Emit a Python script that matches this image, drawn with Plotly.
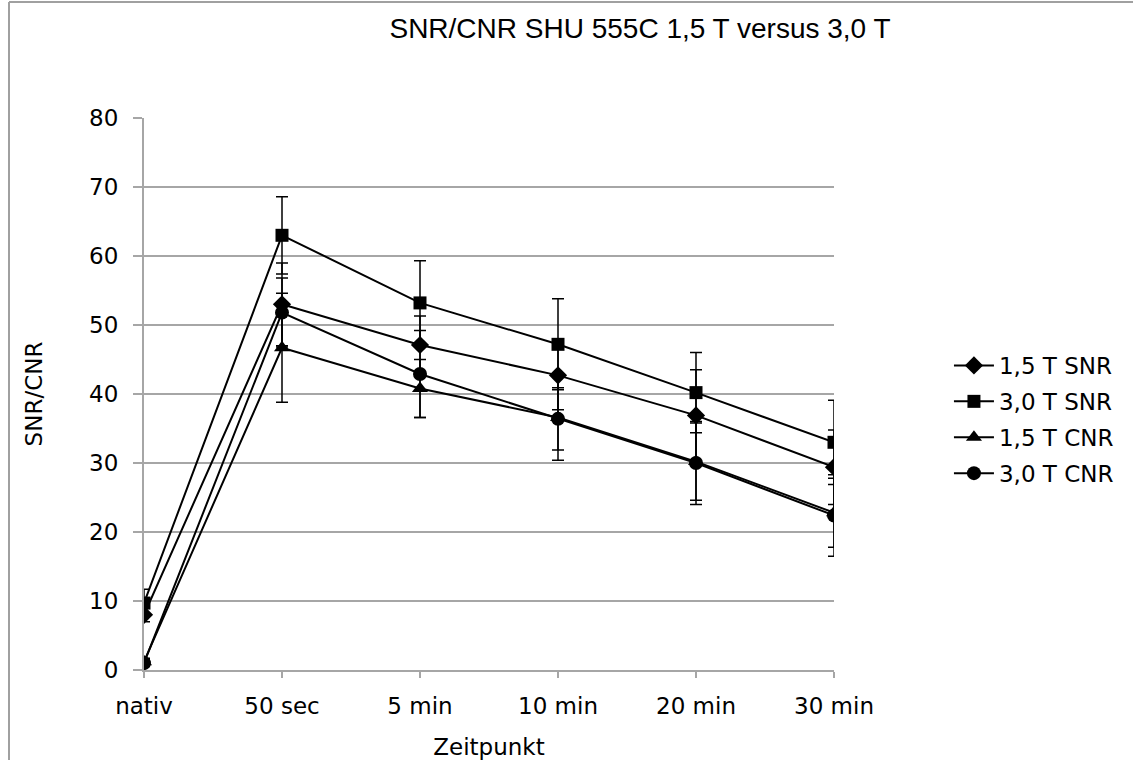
import plotly.graph_objects as go

categories = ["nativ", "50 sec", "5 min", "10 min", "20 min", "30 min"]

snr_15 = [8.0, 53.0, 47.1, 42.7, 36.9, 29.4]
snr_15_err = [1.0, 6.0, 4.2, 5.0, 6.6, 5.4]

snr_30 = [9.7, 63.0, 53.2, 47.2, 40.2, 33.0]
snr_30_err = [2.0, 5.6, 6.1, 6.6, 5.8, 6.1]

cnr_15 = [1.2, 46.7, 40.8, 36.6, 30.2, 22.8]
cnr_15_err = [0.5, 7.9, 4.2, 6.2, 5.6, 5.0]

cnr_30 = [1.0, 51.8, 42.9, 36.4, 30.0, 22.4]
cnr_30_err = [0.5, 5.0, 6.3, 4.5, 6.0, 5.9]

series = [
    ("1,5 T SNR", snr_15, snr_15_err, "diamond", 14),
    ("3,0 T SNR", snr_30, snr_30_err, "square", 13),
    ("1,5 T CNR", cnr_15, cnr_15_err, "triangle-up", 14),
    ("3,0 T CNR", cnr_30, cnr_30_err, "circle", 14),
]

xs = list(range(len(categories)))

fig = go.Figure()
for i, (name, vals, err, sym, size) in enumerate(series):
    fig.add_trace(go.Scatter(
        x=xs, y=vals, name=name, mode="lines+markers",
        legendgroup="g%d" % i,
        line=dict(color="black", width=2),
        marker=dict(symbol=sym, size=size, color="black"),
        error_y=dict(type="data", array=err, visible=True,
                     color="black", thickness=1.5, width=6),
    ))

font_axis = "DejaVu Sans, Verdana, sans-serif"

# plot area on screen: x 144..834, y 118..670 (body margin removed below)
fig.update_layout(
    width=1133, height=760,
    margin=dict(l=144, r=299, t=118, b=90, autoexpand=False),
    paper_bgcolor="white", plot_bgcolor="white",
    title=dict(text="SNR/CNR SHU 555C 1,5 T versus 3,0 T",
               x=640 / 1133, xanchor="center", y=1 - 28 / 760, yanchor="middle",
               font=dict(family="Liberation Sans, Arial, sans-serif", size=28, color="black")),
    font=dict(family=font_axis, size=23, color="black"),
    showlegend=True,
    legend=dict(x=1.155 + 8 / 690, xanchor="left", y=(670 - 344) / 552, yanchor="top",
                font=dict(family=font_axis, size=23, color="black"),
                traceorder="grouped", tracegroupgap=3,
                itemwidth=40, bgcolor="rgba(0,0,0,0)"),
    shapes=[
        dict(type="line", xref="paper", yref="paper",
             x0=(9 - 144) / 690, x1=(9 - 144) / 690,
             y0=(670 - 2) / 552, y1=(670 - 780) / 552,
             line=dict(color="#a0a0a0", width=2)),
        dict(type="line", xref="paper", yref="paper",
             x0=(9 - 144) / 690, x1=(1150 - 144) / 690,
             y0=(670 - 2) / 552, y1=(670 - 2) / 552,
             line=dict(color="#a0a0a0", width=2)),
    ],
)

fig.update_xaxes(
    range=[0, 5], tickmode="array", tickvals=xs, ticktext=categories,
    showgrid=False, showline=True, linecolor="#a6a6a6", linewidth=2,
    ticks="outside", ticklen=6, tickcolor="#a6a6a6", tickwidth=2,
    ticklabelstandoff=8, automargin=False,
    zeroline=False,
    title=dict(text="Zeitpunkt", standoff=22, font=dict(family=font_axis, size=23)),
    tickfont=dict(family=font_axis, size=23),
)
fig.update_yaxes(
    range=[0, 80], dtick=10,
    showgrid=True, gridcolor="#a6a6a6", gridwidth=2,
    showline=True, linecolor="#a6a6a6", linewidth=2,
    ticks="outside", ticklen=9, tickcolor="#a6a6a6", tickwidth=2,
    ticklabelstandoff=10, automargin=False,
    zeroline=False,
    title=dict(text="SNR/CNR", standoff=40, font=dict(family=font_axis, size=23)),
    tickfont=dict(family=font_axis, size=23),
)

fig.write_html("out.html", config={"displayModeBar": False},
               post_script="document.body.style.margin='0px';")
